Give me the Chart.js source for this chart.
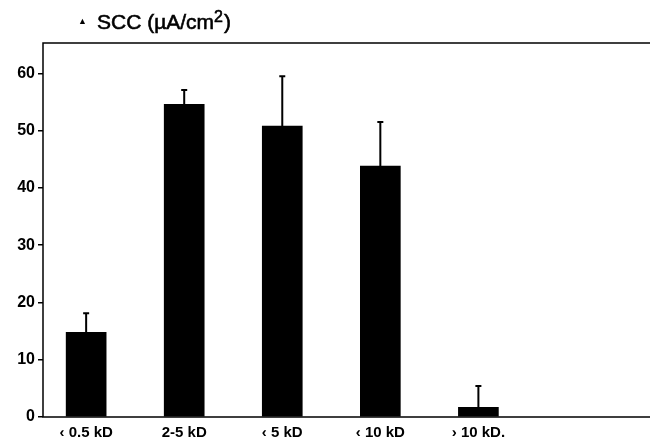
<!DOCTYPE html>
<html>
<head>
<meta charset="utf-8">
<script src="https://cdn.jsdelivr.net/npm/chart.js@4/dist/chart.umd.min.js"></script>
<style>
  body { margin: 0; background: #fff; }
  #wrap { width: 650px; height: 445px; }
</style>
</head>
<body>
<div id="wrap"><canvas id="mycanvas"></canvas></div>
<script>
var categories = ['\u2039 0.5 kD', '2-5 kD', '\u2039 5 kD', '\u2039 10 kD', '\u203A 10 kD.'];
var scc = [14.8, 54.6, 50.8, 43.8, 1.7];
var errTop = [18.1, 57.1, 59.5, 51.5, 5.4];
var yTicks = [0, 10, 20, 30, 40, 50, 60];

var font = 'Liberation Sans, Arial, sans-serif';

// error bars, frame and title
var extras = {
  id: 'extras',
  afterDatasetsDraw: function(chart) {
    var ctx = chart.ctx, x = chart.scales.x, y = chart.scales.y, a = chart.chartArea;
    ctx.save();
    ctx.strokeStyle = '#000';
    ctx.fillStyle = '#000';
    ctx.lineWidth = 2;
    for (var i = 0; i < scc.length; i++) {
      var px = x.getPixelForValue(i);
      var y0 = y.getPixelForValue(scc[i]);
      var y1 = y.getPixelForValue(errTop[i]);
      ctx.beginPath();
      ctx.moveTo(px, y0); ctx.lineTo(px, y1);
      ctx.moveTo(px - 3, y1); ctx.lineTo(px + 3, y1);
      ctx.stroke();
    }
    // frame
    ctx.lineWidth = 1.5;
    ctx.beginPath();
    ctx.moveTo(a.right, a.top); ctx.lineTo(a.left, a.top);
    ctx.lineTo(a.left, a.bottom); ctx.lineTo(a.right, a.bottom);
    ctx.stroke();
    // title
    ctx.textBaseline = 'alphabetic';
    ctx.font = 'bold 9px ' + font;
    ctx.fillText('\u25B2', 78, 24);
    ctx.font = '500 21px ' + font;
    ctx.lineWidth = 0.6;
    ctx.fillText('SCC (\u00B5A/cm', 97, 29);
    ctx.strokeText('SCC (\u00B5A/cm', 97, 29);
    var w = ctx.measureText('SCC (\u00B5A/cm').width;
    ctx.font = '16px ' + font;
    ctx.fillText('2', 97 + w, 22);
    ctx.strokeText('2', 97 + w, 22);
    var w2 = ctx.measureText('2').width;
    ctx.font = '21px ' + font;
    ctx.fillText(')', 98 + w + w2, 29);
    ctx.strokeText(')', 98 + w + w2, 29);
    ctx.restore();
  }
};

new Chart(document.getElementById('mycanvas'), {
  type: 'bar',
  data: {
    datasets: [{
      data: scc.map(function(v, i) { return { x: i, y: v }; }),
      backgroundColor: '#000',
      barThickness: 40
    }]
  },
  options: {
    responsive: true,
    maintainAspectRatio: false,
    animation: false,
    layout: { padding: { top: 43, right: 0, left: 0, bottom: 0 } },
    plugins: { legend: { display: false }, tooltip: { enabled: false } },
    scales: {
      x: {
        type: 'linear', min: -0.44, max: 5.75, offset: false,
        afterFit: function(s) { s.height = 28; },
        grid: { display: false, drawTicks: false },
        border: { display: false },
        ticks: {
          stepSize: 1, color: '#000', font: { family: font, size: 15, weight: 'bold' },
          padding: 7, maxRotation: 0,
          callback: function(v) { return categories[v] || ''; }
        },
        afterBuildTicks: function(s) { s.ticks = categories.map(function(c, i) { return { value: i }; }); }
      },
      y: {
        min: 0, max: 65.3,
        afterFit: function(s) { s.width = 43; },
        afterBuildTicks: function(s) { s.ticks = yTicks.map(function(v) { return { value: v }; }); },
        grid: { display: true, drawOnChartArea: false, color: '#000', tickLength: 5, lineWidth: 1.5 },
        border: { display: false },
        ticks: { color: '#000', font: { family: font, size: 16, weight: 'bold' }, padding: 3 }
      }
    }
  },
  plugins: [extras]
});
</script>
</body>
</html>
